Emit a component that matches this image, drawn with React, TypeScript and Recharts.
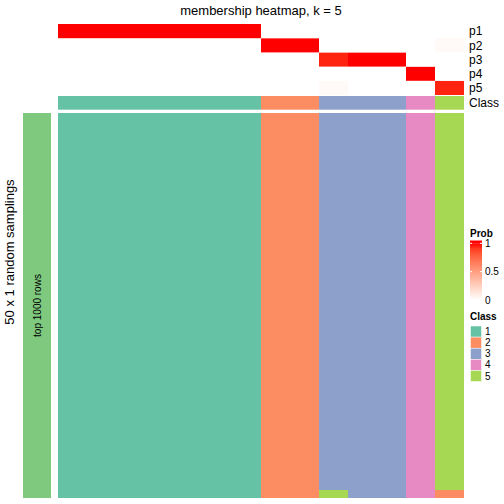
import React from "react"
import { BarChart, Bar, Cell, XAxis, YAxis, LabelList } from "recharts"

// one column per sample, ordered by class
const columns = ["c1", "c2", "c3", "c4", "c5", "c6", "c7", "c8", "c9", "c10", "c11", "c12", "c13", "c14"]
const classOf = [1, 1, 1, 1, 1, 1, 1, 2, 2, 3, 3, 3, 4, 5]
const probP1 = [1, 1, 1, 1, 1, 1, 1, 0, 0, 0, 0, 0, 0, 0]
const probP2 = [0, 0, 0, 0, 0, 0, 0, 1, 1, 0, 0, 0, 0, 0.03]
const probP3 = [0, 0, 0, 0, 0, 0, 0, 0, 0, 0.96, 1, 1, 0, 0]
const probP4 = [0, 0, 0, 0, 0, 0, 0, 0, 0, 0, 0, 0, 1, 0]
const probP5 = [0, 0, 0, 0, 0, 0, 0, 0, 0, 0.03, 0, 0, 0, 0.96]
// rows (out of 1000) at the bottom of a column that got another class
const bottomClass = [0, 0, 0, 0, 0, 0, 0, 0, 0, 5, 0, 0, 0, 2]
const bottomRows = [0, 0, 0, 0, 0, 0, 0, 0, 0, 21, 0, 0, 0, 21]

const rowLabels = ["p1", "p2", "p3", "p4", "p5", "Class"]
const classLabels = ["1", "2", "3", "4", "5"]
const probTicks = [0, 0.5, 1]
const classColors = ["#66C2A5", "#FC8D62", "#8DA0CB", "#E78AC3", "#A6D854"]

const MAIN_ROWS = 1000
const FONT = "'Liberation Sans', Arial, Helvetica, sans-serif"

// layout in pixels -> value units of the stacked axis
const MAIN_PX = 385
const U = MAIN_ROWS / MAIN_PX
const ROW = 14.2 * U
const CLASS_ROW = 13.7 * U
const GAP_SMALL = 1 * U
const GAP_BIG = 3.3 * U
const TOTAL = MAIN_ROWS + GAP_BIG + CLASS_ROW + GAP_SMALL + 5 * ROW

// white -> red, interpolated in Lab like colorRamp2
function labToHex(L: number, a: number, b: number) {
  const fy = (L + 16) / 116
  const fx = fy + a / 500
  const fz = fy - b / 200
  const inv = (t: number) => (t ** 3 > 0.008856 ? t ** 3 : (116 * t - 16) / 903.3)
  const X = 0.95047 * inv(fx)
  const Y = L > 8 ? fy ** 3 : L / 903.3
  const Z = 1.08883 * inv(fz)
  const lin = [
    3.2406 * X - 1.5372 * Y - 0.4986 * Z,
    -0.9689 * X + 1.8758 * Y + 0.0415 * Z,
    0.0557 * X - 0.204 * Y + 1.057 * Z,
  ]
  return (
    "#" +
    lin
      .map((c) => {
        const g = c <= 0.0031308 ? 12.92 * c : 1.055 * Math.pow(c, 1 / 2.4) - 0.055
        const v = Math.round(Math.min(1, Math.max(0, g)) * 255)
        return v.toString(16).padStart(2, "0")
      })
      .join("")
  )
}

function probColor(v: number) {
  return labToHex(100 + (53.24 - 100) * v, 80.09 * v, 67.2 * v)
}

const data = columns.map((id, i) => ({
  id,
  mainBottom: bottomRows[i],
  mainTop: MAIN_ROWS - bottomRows[i],
  gapBig: GAP_BIG,
  cls: CLASS_ROW,
  gapSmall: GAP_SMALL,
  p5: ROW,
  p4: ROW,
  p3: ROW,
  p2: ROW,
  p1: ROW,
}))

const tickPositions = [
  TOTAL - 0.5 * ROW,
  TOTAL - 1.5 * ROW,
  TOTAL - 2.5 * ROW,
  TOTAL - 3.5 * ROW,
  TOTAL - 4.5 * ROW,
  TOTAL - 5 * ROW - GAP_SMALL - 0.5 * CLASS_ROW,
]

const rowData = [{ id: "rows", rows: MAIN_ROWS, label: "top 1000 rows" }]

const probRows: [string, number[]][] = [
  ["p5", probP5],
  ["p4", probP4],
  ["p3", probP3],
  ["p2", probP2],
  ["p1", probP1],
]

function RowLabel(props: any) {
  const { x, y, width, height, value } = props
  const cx = x + width / 2
  const cy = y + height / 2
  return (
    <text
      x={cx}
      y={cy}
      dy="0.35em"
      textAnchor="middle"
      fontSize={10}
      fontFamily={FONT}
      fill="#000"
      transform={`rotate(-90 ${cx} ${cy})`}
    >
      {value}
    </text>
  )
}

function Legends() {
  const barTop = 243.3
  const barBottom = 300
  const yOf = (v: number) => barBottom - v * (barBottom - barTop)
  const stops = Array.from({ length: 11 }, (_, k) => k / 10)
  return (
    <svg width={504} height={504} style={{ position: "absolute", left: 0, top: 0, pointerEvents: "none" }}>
      <defs>
        <linearGradient id="probGrad" x1="0" y1="0" x2="0" y2="1">
          {stops.map((s) => (
            <stop key={s} offset={s} stopColor={probColor(1 - s)} />
          ))}
        </linearGradient>
      </defs>
      <text x={261} y={15} textAnchor="middle" fontSize={13} fontFamily={FONT}>
        membership heatmap, k = 5
      </text>
      <text
        x={14}
        y={252}
        textAnchor="middle"
        fontSize={13}
        fontFamily={FONT}
        transform="rotate(-90 14 252)"
      >
        50 x 1 random samplings
      </text>

      <text x={470} y={237} fontSize={10} fontWeight="bold" fontFamily={FONT}>
        Prob
      </text>
      <rect x={470} y={240.5} width={12} height={3} fill={probColor(1)} />
      <rect x={470} y={barTop} width={12} height={barBottom - barTop} fill="url(#probGrad)" />
      {probTicks.map((t) => (
        <g key={t}>
          <line x1={470} x2={472} y1={yOf(t)} y2={yOf(t)} stroke="#fff" strokeWidth={1} />
          <line x1={480} x2={482} y1={yOf(t)} y2={yOf(t)} stroke="#fff" strokeWidth={1} />
          <text x={485} y={yOf(t)} dy="0.35em" fontSize={10} fontFamily={FONT}>
            {t}
          </text>
        </g>
      ))}

      <text x={470} y={320} fontSize={10} fontWeight="bold" fontFamily={FONT}>
        Class
      </text>
      {classLabels.map((c, i) => (
        <g key={c}>
          <rect x={470.5} y={326 + i * 11.1} width={11} height={11.1} fill={classColors[i]} stroke="#fff" strokeWidth={0.5} />
          <text x={485} y={326 + i * 11.1 + 5.6} dy="0.35em" fontSize={10} fontFamily={FONT}>
            {c}
          </text>
        </g>
      ))}
    </svg>
  )
}

export default function App() {
  return (
    <div style={{ position: "absolute", left: 0, top: 0, width: 504, height: 504, background: "#fff" }}>
      <div style={{ position: "absolute", left: 0, top: 0 }}>
        <BarChart
          width={57}
          height={504}
          data={rowData}
          margin={{ top: 113, right: 6, bottom: 6, left: 23 }}
          barCategoryGap={0}
        >
          <XAxis dataKey="id" hide />
          <YAxis hide type="number" domain={[0, MAIN_ROWS]} />
          <Bar dataKey="rows" fill="#7FC97F" isAnimationActive={false}>
            <LabelList dataKey="label" content={RowLabel} />
          </Bar>
        </BarChart>
      </div>

      <div style={{ position: "absolute", left: 0, top: 0 }}>
        {/* plot width 406 = 14 x 29 so the bar edges land on whole pixels */}
        <BarChart
          width={504}
          height={504}
          data={data}
          margin={{ top: 24, right: 5, bottom: 6, left: 58 }}
          barCategoryGap={0}
          barGap={0}
        >
          <XAxis dataKey="id" hide />
          <YAxis
            type="number"
            orientation="right"
            domain={[0, TOTAL]}
            ticks={tickPositions}
            interval={0}
            width={35}
            axisLine={false}
            tickLine={false}
            tickSize={0}
            tickMargin={5}
            tickFormatter={(_v: number, i: number) => rowLabels[i]}
            tick={{ fill: "#000", fontSize: 12, fontFamily: FONT, textAnchor: "start" }}
          />
          <Bar dataKey="mainBottom" stackId="s" isAnimationActive={false}>
            {columns.map((id, i) => (
              <Cell key={id} fill={bottomClass[i] ? classColors[bottomClass[i] - 1] : "none"} />
            ))}
          </Bar>
          <Bar dataKey="mainTop" stackId="s" isAnimationActive={false}>
            {columns.map((id, i) => (
              <Cell key={id} fill={classColors[classOf[i] - 1]} />
            ))}
          </Bar>
          <Bar dataKey="gapBig" stackId="s" fill="none" isAnimationActive={false} />
          <Bar dataKey="cls" stackId="s" isAnimationActive={false}>
            {columns.map((id, i) => (
              <Cell key={id} fill={classColors[classOf[i] - 1]} />
            ))}
          </Bar>
          <Bar dataKey="gapSmall" stackId="s" fill="none" isAnimationActive={false} />
          {probRows.map(([key, probs]) => (
            <Bar key={key} dataKey={key} stackId="s" isAnimationActive={false}>
              {columns.map((id, i) => (
                <Cell key={id} fill={probColor(probs[i])} />
              ))}
            </Bar>
          ))}
        </BarChart>
      </div>

      <Legends />
    </div>
  )
}
